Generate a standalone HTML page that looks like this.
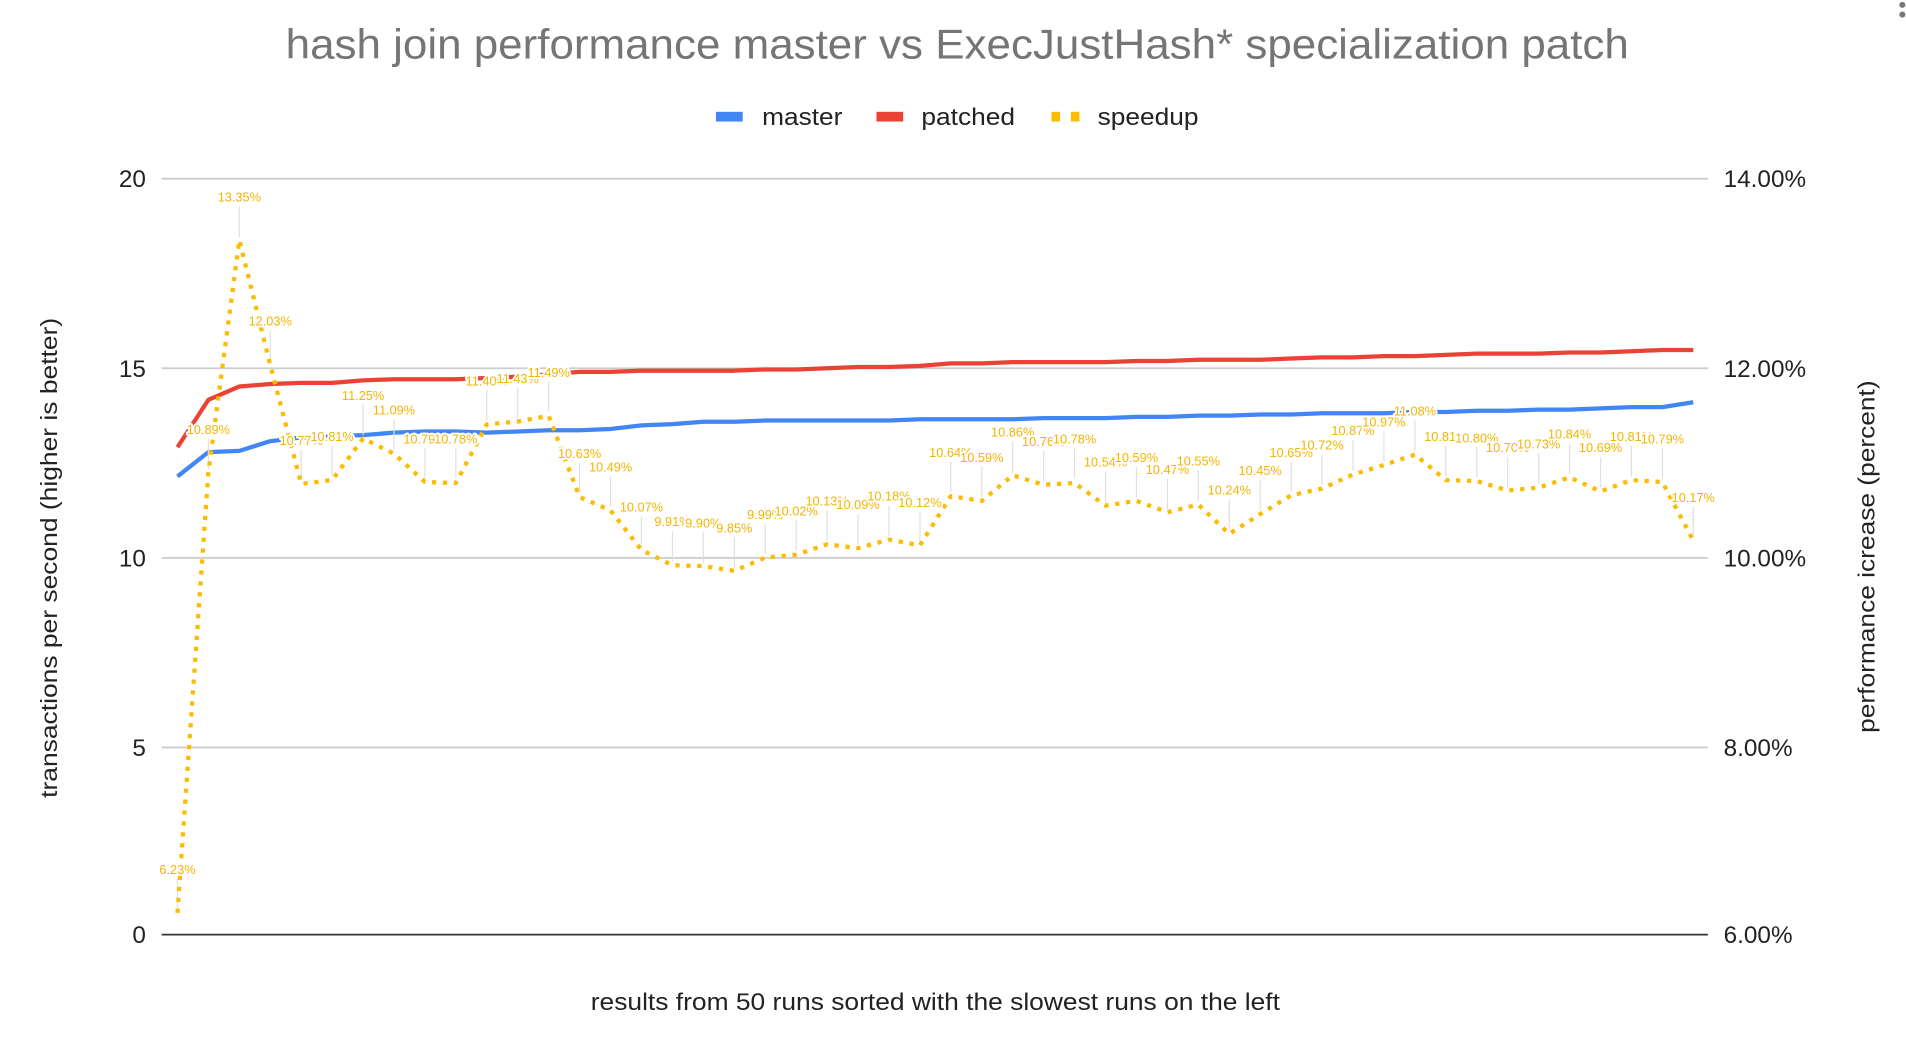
<!DOCTYPE html>
<html><head><meta charset="utf-8"><style>
html,body{margin:0;padding:0;background:#fff;}
svg{display:block;font-family:"Liberation Sans",Arial,sans-serif;}
.lb{font-size:10.5px;fill:#f4b400;text-anchor:middle;stroke:#fff;stroke-width:3px;paint-order:stroke;stroke-linejoin:round;}
.ld{stroke:#e0e0e0;stroke-width:1;}
</style></head><body>
<svg width="1906" height="1044" viewBox="0 0 1568 859" preserveAspectRatio="none" xmlns="http://www.w3.org/2000/svg">
<rect width="1568" height="859" fill="#fff"/>
<text x="235" y="48" font-size="34" fill="#757575" textLength="1105" lengthAdjust="spacingAndGlyphs">hash join performance master vs ExecJustHash* specialization patch</text>
<rect x="589" y="92" width="22" height="8" fill="#4285f4"/>
<text x="627" y="103" font-size="20" fill="#222" textLength="66" lengthAdjust="spacingAndGlyphs">master</text>
<rect x="721" y="92" width="22" height="8" fill="#ea4335"/>
<text x="758" y="103" font-size="20" fill="#222" textLength="77" lengthAdjust="spacingAndGlyphs">patched</text>
<rect x="865" y="92" width="7" height="8" fill="#fbbc04"/>
<rect x="881" y="92" width="7" height="8" fill="#fbbc04"/>
<text x="903" y="103" font-size="20" fill="#222" textLength="83" lengthAdjust="spacingAndGlyphs">speedup</text>

<g stroke="#cccccc" stroke-width="1.5">
<line x1="133" y1="147" x2="1405" y2="147"/>
<line x1="133" y1="303" x2="1405" y2="303"/>
<line x1="133" y1="459" x2="1405" y2="459"/>
<line x1="133" y1="615" x2="1405" y2="615"/>
</g>
<line x1="133" y1="769" x2="1405" y2="769" stroke="#333" stroke-width="1.5"/>
<g font-size="20" fill="#222" text-anchor="end">
<text x="120" y="154">20</text><text x="120" y="310">15</text><text x="120" y="466">10</text><text x="120" y="622">5</text><text x="120" y="776">0</text>
</g>
<g font-size="20" fill="#222">
<text x="1418" y="154">14.00%</text><text x="1418" y="310">12.00%</text><text x="1418" y="466">10.00%</text><text x="1418" y="622">8.00%</text><text x="1418" y="776">6.00%</text>
</g>
<text transform="translate(47,459) rotate(-90)" font-size="19" fill="#222" text-anchor="middle" textLength="395" lengthAdjust="spacingAndGlyphs">transactions per second (higher is better)</text>
<text transform="translate(1542,458) rotate(-90)" font-size="19" fill="#222" text-anchor="middle" textLength="290" lengthAdjust="spacingAndGlyphs">performance icrease (percent)</text>
<text x="486" y="831" font-size="20" fill="#222" textLength="567" lengthAdjust="spacingAndGlyphs">results from 50 runs sorted with the slowest runs on the left</text>

<polyline fill="none" stroke="#4285f4" stroke-width="3.5" stroke-linejoin="round" points="146,392 171.4,372 196.9,371 222.3,363 247.8,360 273.2,359 298.7,358 324.1,356 349.6,355 375,355 400.5,356 425.9,355 451.4,354 476.8,354 502.3,353 527.7,350 553.2,349 578.6,347 604.1,347 629.5,346 655,346 680.4,346 705.9,346 731.3,346 756.8,345 782.2,345 807.7,345 833.1,345 858.6,344 884,344 909.5,344 934.9,343 960.4,343 985.8,342 1011.3,342 1036.7,341 1062.2,341 1087.6,340 1113.1,340 1138.5,340 1164,339 1189.4,339 1214.9,338 1240.3,338 1265.8,337 1291.2,337 1316.7,336 1342.1,335 1367.6,335 1393,331"/>
<polyline fill="none" stroke="#ea4335" stroke-width="3.5" stroke-linejoin="round" points="146,368 171.4,329 196.9,318 222.3,316 247.8,315 273.2,315 298.7,313 324.1,312 349.6,312 375,312 400.5,311 425.9,310 451.4,308 476.8,306 502.3,306 527.7,305 553.2,305 578.6,305 604.1,305 629.5,304 655,304 680.4,303 705.9,302 731.3,302 756.8,301 782.2,299 807.7,299 833.1,298 858.6,298 884,298 909.5,298 934.9,297 960.4,297 985.8,296 1011.3,296 1036.7,296 1062.2,295 1087.6,294 1113.1,294 1138.5,293 1164,293 1189.4,292 1214.9,291 1240.3,291 1265.8,291 1291.2,290 1316.7,290 1342.1,289 1367.6,288 1393,288"/>

<g class="ld">
<line x1="146" y1="723" x2="146" y2="748"/><line x1="171.4" y1="361" x2="171.4" y2="386"/><line x1="196.9" y1="170" x2="196.9" y2="195"/><line x1="222.3" y1="272" x2="222.3" y2="297"/><line x1="247.8" y1="370" x2="247.8" y2="395"/><line x1="273.2" y1="367" x2="273.2" y2="392"/><line x1="298.7" y1="333" x2="298.7" y2="358"/><line x1="324.1" y1="345" x2="324.1" y2="370"/><line x1="349.6" y1="369" x2="349.6" y2="394"/><line x1="375" y1="369" x2="375" y2="394"/><line x1="400.5" y1="321" x2="400.5" y2="346"/><line x1="425.9" y1="319" x2="425.9" y2="344"/><line x1="451.4" y1="314" x2="451.4" y2="339"/><line x1="476.8" y1="381" x2="476.8" y2="406"/><line x1="502.3" y1="392" x2="502.3" y2="417"/><line x1="527.7" y1="425" x2="527.7" y2="450"/><line x1="553.2" y1="437" x2="553.2" y2="462"/><line x1="578.6" y1="438" x2="578.6" y2="463"/><line x1="604.1" y1="442" x2="604.1" y2="467"/><line x1="629.5" y1="431" x2="629.5" y2="456"/><line x1="655" y1="428" x2="655" y2="453"/><line x1="680.4" y1="420" x2="680.4" y2="445"/><line x1="705.9" y1="423" x2="705.9" y2="448"/><line x1="731.3" y1="416" x2="731.3" y2="441"/><line x1="756.8" y1="421" x2="756.8" y2="446"/><line x1="782.2" y1="380" x2="782.2" y2="405"/><line x1="807.7" y1="384" x2="807.7" y2="409"/><line x1="833.1" y1="363" x2="833.1" y2="388"/><line x1="858.6" y1="371" x2="858.6" y2="396"/><line x1="884" y1="369" x2="884" y2="394"/><line x1="909.5" y1="388" x2="909.5" y2="413"/><line x1="934.9" y1="384" x2="934.9" y2="409"/><line x1="960.4" y1="394" x2="960.4" y2="419"/><line x1="985.8" y1="387" x2="985.8" y2="412"/><line x1="1011.3" y1="411" x2="1011.3" y2="436"/><line x1="1036.7" y1="395" x2="1036.7" y2="420"/><line x1="1062.2" y1="380" x2="1062.2" y2="405"/><line x1="1087.6" y1="374" x2="1087.6" y2="399"/><line x1="1113.1" y1="362" x2="1113.1" y2="387"/><line x1="1138.5" y1="355" x2="1138.5" y2="380"/><line x1="1164" y1="346" x2="1164" y2="371"/><line x1="1189.4" y1="367" x2="1189.4" y2="392"/><line x1="1214.9" y1="368" x2="1214.9" y2="393"/><line x1="1240.3" y1="376" x2="1240.3" y2="401"/><line x1="1265.8" y1="373" x2="1265.8" y2="398"/><line x1="1291.2" y1="365" x2="1291.2" y2="390"/><line x1="1316.7" y1="376" x2="1316.7" y2="401"/><line x1="1342.1" y1="367" x2="1342.1" y2="392"/><line x1="1367.6" y1="369" x2="1367.6" y2="394"/><line x1="1393" y1="417" x2="1393" y2="442"/>
</g>

<polyline fill="none" stroke="#fbbc04" stroke-width="3.5" stroke-dasharray="3.5 5.5" stroke-linejoin="round" points="146,751.1 171.4,388.8 196.9,197.5 222.3,300.2 247.8,398.1 273.2,395 298.7,360.8 324.1,373.3 349.6,396.6 375,397.4 400.5,349.2 425.9,346.8 451.4,342.2 476.8,409 502.3,419.9 527.7,452.6 553.2,465 578.6,465.8 604.1,469.7 629.5,458.8 655,456.4 680.4,447.9 705.9,451 731.3,444 756.8,448.7 782.2,408.2 807.7,412.1 833.1,391.1 858.6,398.9 884,397.4 909.5,416 934.9,412.1 960.4,421.5 985.8,415.2 1011.3,439.3 1036.7,423 1062.2,407.5 1087.6,402 1113.1,390.4 1138.5,382.6 1164,374 1189.4,395 1214.9,395.8 1240.3,403.6 1265.8,401.2 1291.2,392.7 1316.7,404.3 1342.1,395 1367.6,396.6 1393,444.8"/>

<g class="lb">
<text x="146" y="719">6.23%</text><text x="171.4" y="357">10.89%</text><text x="196.9" y="166">13.35%</text><text x="222.3" y="268">12.03%</text><text x="247.8" y="366">10.77%</text><text x="273.2" y="363">10.81%</text><text x="298.7" y="329">11.25%</text><text x="324.1" y="341">11.09%</text><text x="349.6" y="365">10.79%</text><text x="375" y="365">10.78%</text><text x="400.5" y="317">11.40%</text><text x="425.9" y="315">11.43%</text><text x="451.4" y="310">11.49%</text><text x="476.8" y="377">10.63%</text><text x="502.3" y="388">10.49%</text><text x="527.7" y="421">10.07%</text><text x="553.2" y="433">9.91%</text><text x="578.6" y="434">9.90%</text><text x="604.1" y="438">9.85%</text><text x="629.5" y="427">9.99%</text><text x="655" y="424">10.02%</text><text x="680.4" y="416">10.13%</text><text x="705.9" y="419">10.09%</text><text x="731.3" y="412">10.18%</text><text x="756.8" y="417">10.12%</text><text x="782.2" y="376">10.64%</text><text x="807.7" y="380">10.59%</text><text x="833.1" y="359">10.86%</text><text x="858.6" y="367">10.76%</text><text x="884" y="365">10.78%</text><text x="909.5" y="384">10.54%</text><text x="934.9" y="380">10.59%</text><text x="960.4" y="390">10.47%</text><text x="985.8" y="383">10.55%</text><text x="1011.3" y="407">10.24%</text><text x="1036.7" y="391">10.45%</text><text x="1062.2" y="376">10.65%</text><text x="1087.6" y="370">10.72%</text><text x="1113.1" y="358">10.87%</text><text x="1138.5" y="351">10.97%</text><text x="1164" y="342">11.08%</text><text x="1189.4" y="363">10.81%</text><text x="1214.9" y="364">10.80%</text><text x="1240.3" y="372">10.70%</text><text x="1265.8" y="369">10.73%</text><text x="1291.2" y="361">10.84%</text><text x="1316.7" y="372">10.69%</text><text x="1342.1" y="363">10.81%</text><text x="1367.6" y="365">10.79%</text><text x="1393" y="413">10.17%</text>
</g>
<circle cx="1565" cy="4" r="2.5" fill="#777"/><circle cx="1565" cy="12" r="2.5" fill="#777"/>
</svg>
</body></html>
